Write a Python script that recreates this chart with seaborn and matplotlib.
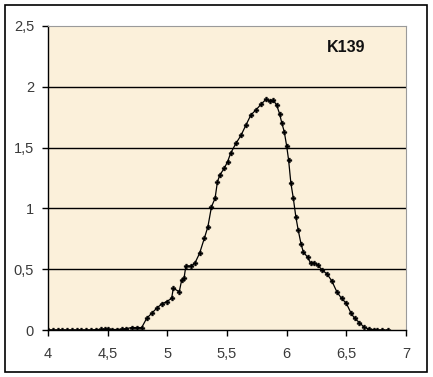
import matplotlib
matplotlib.use("Agg")
import matplotlib.pyplot as plt
import seaborn as sns
import pandas as pd
from matplotlib.patches import Rectangle
from matplotlib.ticker import FuncFormatter

sns.set_style("white")
plt.rcParams['font.family'] = ['Liberation Sans', 'DejaVu Sans']

x_vals = [4.00, 4.04, 4.08, 4.12, 4.16, 4.20, 4.24, 4.28, 4.32, 4.36, 4.40, 4.44,
          4.48, 4.50, 4.54, 4.58, 4.62, 4.65, 4.70, 4.75, 4.785, 4.827, 4.869,
          4.91, 4.952, 4.994, 5.036, 5.05, 5.10, 5.12, 5.14, 5.155, 5.20, 5.23,
          5.27, 5.31, 5.34, 5.37, 5.40, 5.42, 5.44, 5.477, 5.505, 5.53, 5.575,
          5.617, 5.659, 5.70, 5.743, 5.785, 5.827, 5.86, 5.888, 5.916, 5.94,
          5.96, 5.98, 6.00, 6.016, 6.035, 6.055, 6.077, 6.097, 6.12, 6.14,
          6.175, 6.20, 6.23, 6.26, 6.30, 6.34, 6.38, 6.42, 6.46, 6.50, 6.54,
          6.57, 6.61, 6.65, 6.69, 6.73, 6.76, 6.80, 6.85]
y_vals = [0.0, 0.0, 0.0, 0.0, 0.0, 0.0, 0.0, 0.0, 0.0, 0.0, 0.003, 0.005,
          0.008, 0.008, 0.004, 0.004, 0.008, 0.01, 0.02, 0.02, 0.02, 0.096, 0.137,
          0.178, 0.214, 0.233, 0.26, 0.343, 0.315, 0.41, 0.425, 0.526, 0.526, 0.548,
          0.63, 0.754, 0.85, 1.014, 1.083, 1.22, 1.275, 1.33, 1.384, 1.453, 1.535,
          1.60, 1.686, 1.768, 1.81, 1.856, 1.897, 1.883, 1.89, 1.85, 1.78,
          1.70, 1.63, 1.513, 1.40, 1.21, 1.088, 0.93, 0.82, 0.71, 0.64,
          0.60, 0.55, 0.553, 0.535, 0.49, 0.46, 0.40, 0.315, 0.26, 0.22, 0.137,
          0.096, 0.06, 0.022, 0.008, 0.003, 0.0, 0.0, 0.0]

x_ticks = [4, 4.5, 5, 5.5, 6, 6.5, 7]
y_ticks = [0, 0.5, 1, 1.5, 2, 2.5]
label = "K139"

df = pd.DataFrame({"x": x_vals, "y": y_vals})

fig = plt.figure(figsize=(4.33, 3.77), dpi=100)
fig.patch.set_facecolor("white")
ax = fig.add_axes([48/433, 47/377, 358/433, 304/377])
ax.set_facecolor("#FBF0DA")

sns.lineplot(data=df, x="x", y="y", ax=ax, color="black", linewidth=0.9,
             marker="P", markersize=3.5, markeredgewidth=0.3,
             markerfacecolor="black", markeredgecolor="black", zorder=3)

ax.set_xlim(4, 7)
ax.set_ylim(0, 2.5)
ax.set_xticks(x_ticks)
ax.set_yticks(y_ticks)
fmt = FuncFormatter(lambda v, p: (("%g" % v).replace(".", ",")))
ax.xaxis.set_major_formatter(fmt)
ax.yaxis.set_major_formatter(fmt)
ax.set_xlabel("")
ax.set_ylabel("")

for v in [0.5, 1, 1.5, 2]:
    ax.axhline(v, color="black", linewidth=1.0, zorder=1)

for s in ["top", "right"]:
    ax.spines[s].set_color("#9a9a9a")
    ax.spines[s].set_linewidth(0.8)
for s in ["left", "bottom"]:
    ax.spines[s].set_color("black")
    ax.spines[s].set_linewidth(1.0)

ax.tick_params(axis="both", direction="out", length=4, width=1.0,
               colors="black", labelcolor="#3a3a3a", labelsize=10.5)
ax.tick_params(axis="x", pad=8)
ax.tick_params(axis="y", pad=6)
ax.xaxis.set_ticks_position("bottom")
ax.yaxis.set_ticks_position("left")

ax.text(6.50, 2.32, label, ha="center", va="center", fontsize=11.5,
        fontweight="bold", color="#111111")

fig.patches.append(Rectangle((5/433, 5/377), 422/433, 367/377, transform=fig.transFigure,
                             fill=False, edgecolor="black", linewidth=1.2))

fig.savefig("out.png", dpi=100)
